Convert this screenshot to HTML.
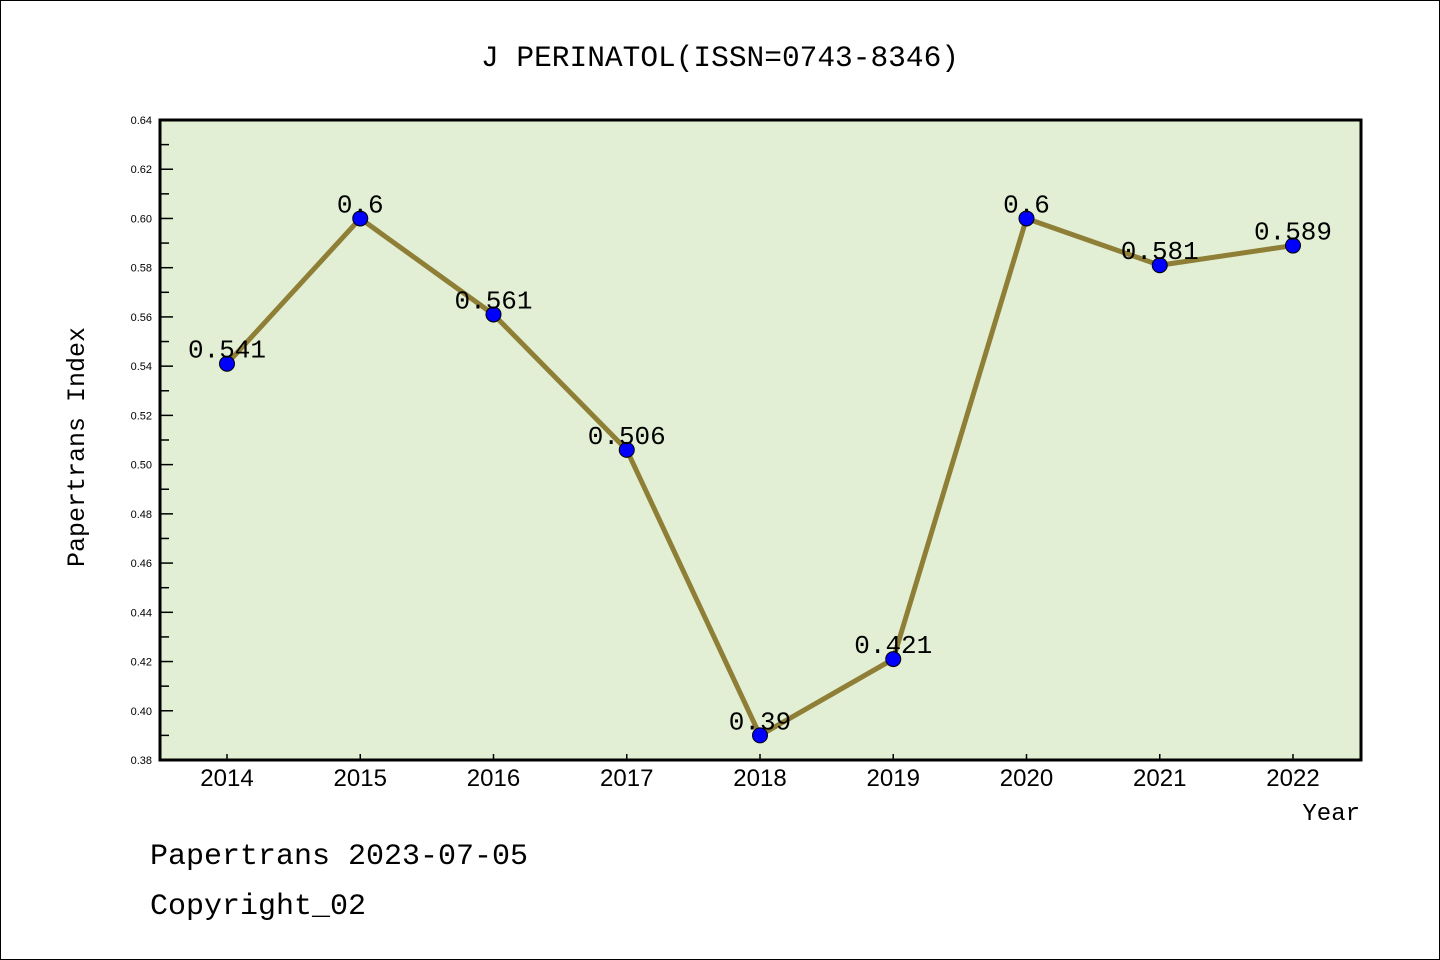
<!DOCTYPE html>
<html><head><meta charset="utf-8"><style>
html,body{margin:0;padding:0;background:#fff}
svg{display:block}
text{font-family:"Liberation Mono","DejaVu Sans Mono",monospace}
text.sans{font-family:"Liberation Sans","DejaVu Sans",sans-serif}
</style></head><body>
<svg id="chart" width="1440" height="960" xmlns="http://www.w3.org/2000/svg">
<rect x="0.5" y="0.5" width="1439" height="959" fill="#fff" stroke="#000" stroke-width="1"/>
<text x="720" y="66" font-size="29.5" text-anchor="middle">J PERINATOL(ISSN=0743-8346)</text>
<rect x="160" y="120" width="1201" height="640" fill="#e2efd4"/>
<g id="yaxis"></g>
<g id="xaxis"></g>
<g id="series"></g>
<rect x="160" y="120" width="1201" height="640" fill="none" stroke="#000" stroke-width="3"/>
<text transform="translate(84,447) rotate(-90)" font-size="25" text-anchor="middle">Papertrans Index</text>
<text x="1360" y="820" font-size="24" text-anchor="end">Year</text>
<text x="150" y="864" font-size="30">Papertrans 2023-07-05</text>
<text x="150" y="914" font-size="30">Copyright_02</text>
</svg>
<script>
const years = ["2014","2015","2016","2017","2018","2019","2020","2021","2022"];
const values = [0.541,0.6,0.561,0.506,0.39,0.421,0.6,0.581,0.589];
const valueLabels = ["0.541","0.6","0.561","0.506","0.39","0.421","0.6","0.581","0.589"];
const yTicks = ["0.38","0.40","0.42","0.44","0.46","0.48","0.50","0.52","0.54","0.56","0.58","0.60","0.62","0.64"];
(function(){
const NS="http://www.w3.org/2000/svg";
const yMin=0.38,yMax=0.64,pTop=120,pBot=760,pLeft=160;
const y=v=>pBot-(v-yMin)/(yMax-yMin)*(pBot-pTop);
const x=i=>227+i*(1293-227)/(years.length-1);
function mk(tag,attrs,parent){const e=document.createElementNS(NS,tag);for(const k in attrs)e.setAttribute(k,attrs[k]);parent.appendChild(e);return e;}
const ya=document.getElementById('yaxis'),xa=document.getElementById('xaxis'),se=document.getElementById('series');
yTicks.forEach((t,i)=>{const v=parseFloat(t),yy=y(v);
 const l=mk('line',{x1:pLeft,x2:pLeft+13,y1:yy,y2:yy,stroke:'#000','stroke-width':1.5},ya);
 
 
 const tx=mk('text',{x:152,y:yy+4,'font-size':11,'text-anchor':'end','class':'sans'},ya);
 
 
 tx.textContent=t;
 if(i<yTicks.length-1){const ym=y(v+0.01);
  const m=mk('line',{x1:pLeft,x2:pLeft+9,y1:ym,y2:ym,stroke:'#000','stroke-width':1.5},ya);
  
  }
});
years.forEach((yr,i)=>{const xx=x(i);
 const l=mk('line',{x1:xx,x2:xx,y1:pBot,y2:pBot-6,stroke:'#000','stroke-width':1.5},xa);
 
 
 const t=mk('text',{x:xx,y:786,'font-size':24,'text-anchor':'middle','class':'sans'},xa);
 
 
 t.textContent=yr;
});
const pl=mk('polyline',{points:values.map((v,i)=>x(i)+','+y(v)).join(' '),fill:'none',stroke:'#8f7f36','stroke-width':5,'stroke-linejoin':'round'},se);


values.forEach((v,i)=>{
 const c=mk('circle',{cx:x(i),cy:y(v),r:7.5,fill:'#0000ff',stroke:'#000','stroke-width':1},se);
 
 
 const t=mk('text',{x:x(i),y:y(v)-6,'font-size':26,'text-anchor':'middle'},se);
 
 
 t.textContent=valueLabels[i];
});
})();
</script>
</body></html>
